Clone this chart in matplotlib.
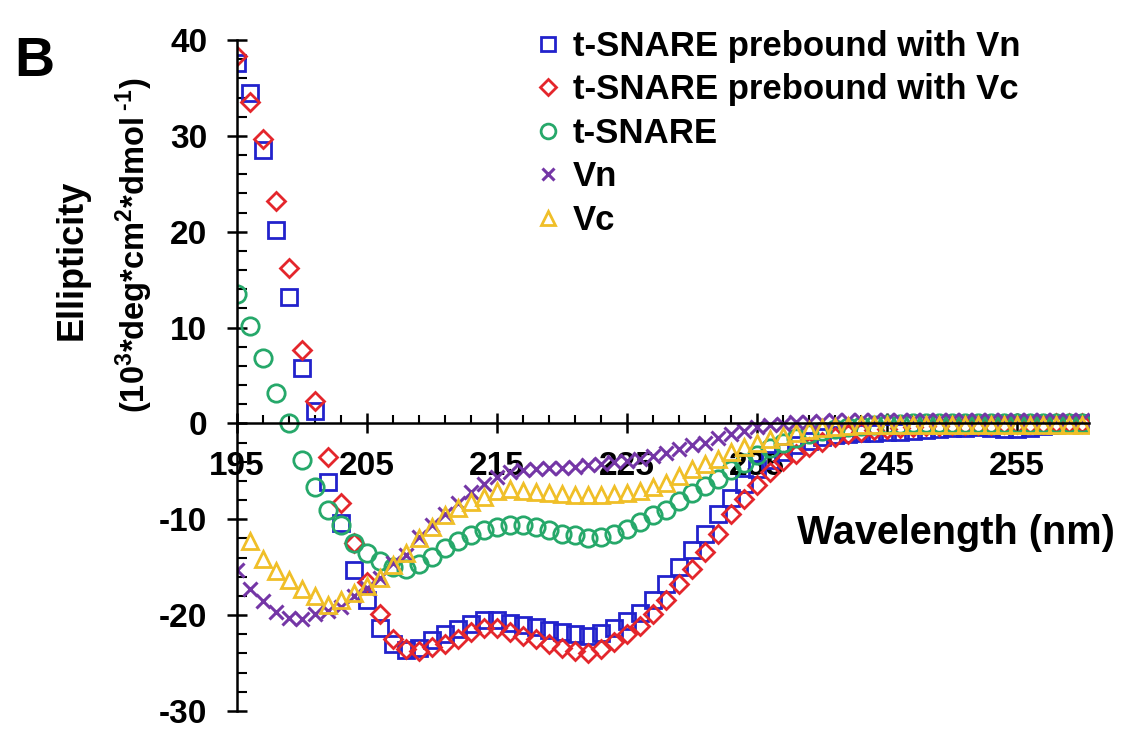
import numpy as np
import matplotlib
matplotlib.use("Agg")
import matplotlib.pyplot as plt
from matplotlib.ticker import FixedLocator

plt.rcParams['font.family'] = ['Liberation Sans', 'DejaVu Sans']
plt.rcParams['font.weight'] = 'bold'
plt.rcParams['axes.unicode_minus'] = False
plt.rcParams['mathtext.fontset'] = 'custom'
plt.rcParams['mathtext.rm'] = 'Liberation Sans:bold'
plt.rcParams['mathtext.bf'] = 'Liberation Sans:bold'
plt.rcParams['mathtext.it'] = 'Liberation Sans:bold'

wavelength = list(range(195, 261))
wavelength_vc = list(range(196, 261))

prebound_vn = [37.6, 34.5, 28.5, 20.2, 13.2, 5.8, 1.3, -6.1, -10.4, -15.3,
               -18.4, -21.3, -23.0, -23.6, -23.4, -22.6, -22.0, -21.4, -20.9, -20.5,
               -20.5, -20.8, -21.0, -21.2, -21.5, -21.8, -22.0, -22.2, -21.9, -21.3,
               -20.6, -19.8, -18.4, -16.8, -15.0, -13.2, -11.5, -9.5, -7.8, -6.3,
               -4.8, -3.8, -3.0, -2.3, -1.8, -1.4, -1.2, -1.1, -1.0, -1.0,
               -0.9, -0.9, -0.8, -0.7, -0.6, -0.5, -0.5, -0.4, -0.5, -0.6,
               -0.6, -0.5, -0.3, -0.2, -0.1, 0.0]
prebound_vc = [38.3, 33.5, 29.7, 23.2, 16.2, 7.7, 2.3, -3.5, -8.3, -12.5,
               -16.5, -19.9, -22.5, -23.5, -23.7, -23.3, -23.0, -22.5, -21.8, -21.3,
               -21.3, -21.8, -22.2, -22.5, -23.0, -23.4, -23.7, -23.9, -23.5, -22.8,
               -22.0, -21.1, -19.9, -18.4, -16.8, -15.2, -13.4, -11.5, -9.5, -7.9,
               -6.4, -5.1, -3.9, -3.2, -2.5, -1.9, -1.4, -1.1, -0.9, -0.7,
               -0.6, -0.5, -0.4, -0.3, -0.3, -0.2, -0.2, -0.2, -0.2, -0.1,
               -0.1, -0.1, -0.1, 0.0, 0.0, 0.0]
t_snare = [13.5, 10.2, 6.8, 3.2, 0.0, -3.8, -6.6, -9.0, -10.6, -12.5,
           -13.5, -14.4, -15.0, -15.2, -14.7, -13.9, -13.0, -12.3, -11.6, -11.1,
           -10.8, -10.6, -10.6, -10.8, -11.1, -11.5, -11.6, -12.0, -11.8, -11.5,
           -11.0, -10.3, -9.6, -9.0, -8.1, -7.3, -6.5, -5.8, -4.9, -4.1,
           -3.3, -2.6, -2.0, -1.5, -1.1, -0.8, -0.6, -0.4, -0.3, -0.2,
           -0.1, -0.1, 0.0, 0.0, 0.0, 0.0, 0.0, 0.0, 0.0, 0.0,
           0.0, 0.0, 0.0, 0.0, 0.0, 0.0]
vn = [-15.3, -17.3, -18.5, -19.7, -20.3, -20.4, -19.9, -19.6, -19.2, -18.0,
      -17.2, -16.1, -14.6, -13.7, -11.8, -10.6, -9.4, -8.3, -7.2, -6.3,
      -5.6, -5.1, -4.9, -4.8, -4.7, -4.6, -4.5, -4.3, -4.2, -4.0,
      -3.9, -3.7, -3.4, -3.1, -2.7, -2.3, -2.0, -1.5, -1.1, -0.8,
      -0.4, -0.2, -0.1, 0.1, 0.2, 0.3, 0.4, 0.4, 0.4, 0.4,
      0.4, 0.4, 0.4, 0.4, 0.4, 0.4, 0.4, 0.4, 0.4, 0.4,
      0.4, 0.4, 0.4, 0.4, 0.4, 0.4]
vc = [-12.3, -14.1, -15.4, -16.3, -17.3, -18.0, -18.9, -18.4, -17.7,
      -17.0, -16.1, -14.8, -13.5, -12.0, -10.8, -9.6, -8.8, -8.2, -7.7,
      -7.1, -6.8, -7.0, -7.2, -7.3, -7.4, -7.5, -7.5, -7.5, -7.4,
      -7.3, -7.0, -6.6, -6.2, -5.5, -4.8, -4.2, -3.7, -3.0, -2.5,
      -2.0, -1.6, -1.3, -1.0, -0.7, -0.5, -0.4, -0.3, -0.2, -0.2,
      -0.2, -0.2, -0.2, -0.2, -0.2, -0.2, -0.2, -0.2, -0.2, -0.2,
      -0.2, -0.2, -0.2, -0.2, -0.2, -0.2]

labels = ['t-SNARE prebound with Vn', 't-SNARE prebound with Vc', 't-SNARE', 'Vn', 'Vc']
x_major = [195, 205, 215, 225, 235, 245, 255]

fig = plt.figure(figsize=(11.22, 7.29), dpi=100)
ax = fig.add_axes([237/1122, 18/729, (1088.5-237)/1122, (711-40)/729])

common = dict(linestyle='none', markerfacecolor='none')
ax.plot(wavelength, prebound_vn, marker='s', ms=12, mew=2.0, color='#2222cc', label=labels[0], **common)
ax.plot(wavelength, prebound_vc, marker='D', ms=9.5, mew=2.0, color='#e4262c', label=labels[1], **common)
ax.plot(wavelength, t_snare, marker='o', ms=12.5, mew=2.0, color='#26a86a', label=labels[2], **common)
ax.plot(wavelength, vn, marker='x', ms=10, mew=2.2, color='#7436a6', label=labels[3], **common)
ax.plot(wavelength_vc, vc, marker='^', ms=11.5, mew=2.0, color='#f0bf28', label=labels[4], **common)

ax.set_xlim(195, 260.5)
ax.set_ylim(-30, 40)
for s in ['top', 'right']:
    ax.spines[s].set_visible(False)
ax.spines['bottom'].set_position(('data', 0))
ax.spines['left'].set_linewidth(1.8)
ax.spines['bottom'].set_linewidth(1.8)

ax.xaxis.set_major_locator(FixedLocator(x_major))
ax.xaxis.set_minor_locator(FixedLocator(np.arange(197, 261, 2)))
ax.yaxis.set_major_locator(FixedLocator(np.arange(-30, 41, 10)))
ax.yaxis.set_minor_locator(FixedLocator(np.arange(-30, 41, 2)))
ax.tick_params(axis='x', which='major', direction='inout', length=15, width=1.8,
               labelsize=24, pad=12)
ax.tick_params(axis='x', which='minor', direction='in', length=6, width=1.5)
ax.tick_params(axis='y', which='major', direction='inout', length=15, width=1.8,
               labelsize=24, pad=14)
ax.tick_params(axis='y', which='minor', direction='in', length=7, width=1.5)
for lab in ax.get_xticklabels() + ax.get_yticklabels():
    lab.set_fontweight('bold')

fig.text(1115/1122, 1 - 533/729, 'Wavelength (nm)', fontsize=28.5, fontweight='bold',
         ha='right', va='center')
fig.text(72/1122, 1 - 260/729, 'Ellipticity', fontsize=26, fontweight='bold',
         rotation=90, ha='center', va='center')
fig.text(134/1122, 1 - 245/729,
         r'(10$^{\mathbf{3}}$*deg*cm$^{\mathbf{2}}$*dmol$^{\text{ -1}}$)',
         fontsize=23.5, fontweight='bold', rotation=90, ha='center', va='center')
fig.text(14/1122, 1 - 62/729, 'B', fontsize=40, fontweight='bold', ha='left', va='center')

leg = ax.legend(loc='upper left', bbox_to_anchor=(538/1122, 1 - 30/729),
                bbox_transform=fig.transFigure, frameon=False, fontsize=25,
                handlelength=0.6, handletextpad=0.4, labelspacing=0.3,
                markerscale=0.85, borderpad=0, borderaxespad=0)
for t in leg.get_texts():
    t.set_fontweight('bold')

fig.savefig('out.png', dpi=100)
